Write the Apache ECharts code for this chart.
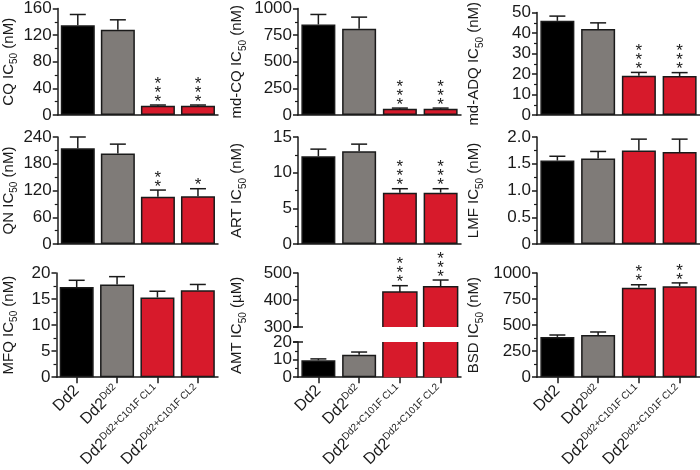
<!DOCTYPE html>
<html>
<head>
<meta charset="utf-8">
<script src="https://cdn.jsdelivr.net/npm/echarts@6/dist/echarts.min.js"></script>
<style>
html, body { margin: 0; padding: 0; background: #fff; }
#chart { width: 700px; height: 470px; }
</style>
</head>
<body>
<div id="chart"></div>
<script>
// strains (x categories), shown as main text + superscript
var categories = ['Dd2', 'Dd2Dd2', 'Dd2Dd2+C101F CL1', 'Dd2Dd2+C101F CL2'];
var catMain = ['Dd2', 'Dd2', 'Dd2', 'Dd2'];
var catSup = ['', 'Dd2', 'Dd2+C101F CL1', 'Dd2+C101F CL2'];
var barColors = ['#000000', '#7f7b78', '#d71a2b', '#d71a2b'];

// IC50 means, error (SEM) and significance stars per drug
var cqMean = [135, 128, 14, 14];
var cqErr = [16, 15, 1, 1];
var cqStars = [0, 0, 3, 3];

var mdcqMean = [850, 810, 58, 58];
var mdcqErr = [94, 109, 7, 7];
var mdcqStars = [0, 0, 3, 3];

var mdadqMean = [46, 42, 19.2, 19];
var mdadqErr = [2.3, 3, 1.6, 1.7];
var mdadqStars = [0, 0, 3, 3];

var qnMean = [215, 203, 106, 107];
var qnErr = [25, 21, 15, 17];
var qnStars = [0, 0, 2, 1];

var artMean = [12.3, 13.0, 7.2, 7.2];
var artErr = [1.0, 1.0, 0.55, 0.55];
var artStars = [0, 0, 3, 3];

var lmfMean = [1.56, 1.60, 1.75, 1.72];
var lmfErr = [0.08, 0.13, 0.21, 0.24];
var lmfStars = [0, 0, 0, 0];

var mfqMean = [17.3, 17.8, 15.3, 16.7];
var mfqErr = [1.3, 1.5, 1.2, 1.1];
var mfqStars = [0, 0, 0, 0];

var amtMean = [9.6, 12.8, 430, 449];
var amtErr = [0.8, 1.5, 23, 25];
var amtStars = [0, 0, 3, 3];

var bsdMean = [387, 405, 858, 874];
var bsdErr = [18, 29, 29, 31];
var bsdStars = [0, 0, 2, 2];

var FONT = '"Liberation Sans", Arial, Helvetica, sans-serif';
var INK = '#1a1a1a';
var colLeft = [55, 298, 537];
var colGap = [37, 50, 52];
var W = 163;
var BAR_W = 34;

var option = { animation: false, grid: [], xAxis: [], yAxis: [], series: [] };

function nameRich() {
    return {
        a: { fontSize: 15, lineHeight: 22, fontFamily: FONT, color: INK },
        s: { fontSize: 10, lineHeight: 12, fontFamily: FONT, color: INK, verticalAlign: 'bottom' }
    };
}

function renderErr(params, api) {
    var i = api.value(0), m = api.value(1), e = api.value(2), n = api.value(3);
    var base = api.coord([i, m]);
    var top = api.coord([i, m + e]);
    var st = { stroke: INK, lineWidth: 1.5 };
    var children = [
        { type: 'line', shape: { x1: base[0], y1: base[1], x2: top[0], y2: top[1] }, style: st },
        { type: 'line', shape: { x1: top[0] - 8, y1: top[1], x2: top[0] + 8, y2: top[1] }, style: st }
    ];
    for (var k = 0; k < n; k++) {
        children.push({
            type: 'text', x: top[0], y: top[1] - 3 - 9 * k,
            style: { text: '*', fontSize: 17, fontFamily: FONT, fill: INK, align: 'center', verticalAlign: 'middle' }
        });
    }
    return { type: 'group', children: children };
}

// bar cut by the axis break: no outline on the cut edges
function renderBroken(params, api) {
    var cs = params.coordSys;
    var i = api.value(0), v = api.value(1);
    var c = api.coord([i, v]);
    var yBot = cs.y + cs.height;
    var inside = c[1] >= cs.y;
    var yTop = inside ? c[1] : cs.y;
    var x0 = c[0] - BAR_W / 2, x1 = c[0] + BAR_W / 2;
    var st = { stroke: INK, lineWidth: 1.5, fill: null };
    var children = [
        { type: 'rect', shape: { x: x0, y: yTop, width: BAR_W, height: yBot - yTop }, style: { fill: barColors[i] } }
    ];
    if (inside) {
        children.push({ type: 'polyline', shape: { points: [[x0, yBot], [x0, yTop], [x1, yTop], [x1, yBot]] }, style: st });
    } else {
        children.push({ type: 'line', shape: { x1: x0, y1: yTop, x2: x0, y2: yBot }, style: st });
        children.push({ type: 'line', shape: { x1: x1, y1: yTop, x2: x1, y2: yBot }, style: st });
    }
    return { type: 'group', children: children };
}

function addPanel(p) {
    var gi = option.grid.length;
    var broken = p.broken || [];
    option.grid.push({ left: p.left, top: p.top, width: W, height: p.height });
    option.xAxis.push({
        type: 'category', gridIndex: gi, data: categories, show: p.showX !== false,
        axisLine: { onZero: false, lineStyle: { color: INK, width: 1.5 } },
        axisTick: { show: !!p.bottom, alignWithLabel: true, length: 6, lineStyle: { color: INK, width: 1.5 } },
        axisLabel: {
            show: !!p.bottom, rotate: 45, margin: 11, interval: 0,
            formatter: function (v, idx) {
                return '{m|' + catMain[idx] + '}' + (catSup[idx] ? '{u|' + catSup[idx] + '}' : '');
            },
            rich: {
                m: { fontSize: 16, lineHeight: 18, fontFamily: FONT, color: INK },
                u: { fontSize: 10, lineHeight: 12, fontFamily: FONT, color: INK, verticalAlign: 'top' }
            }
        }
    });
    option.yAxis.push({
        type: 'value', gridIndex: gi, min: p.min, max: p.max, interval: p.interval,
        name: p.name, nameLocation: 'middle', nameGap: p.nameGap, nameRotate: 90,
        nameTextStyle: { rich: nameRich() },
        axisLine: { show: true, lineStyle: { color: INK, width: 1.5 } },
        axisTick: { show: true, length: 5, lineStyle: { color: INK, width: 1.5 } },
        minorTick: { show: true, splitNumber: 2, length: 3, lineStyle: { color: INK, width: 1.2 } },
        splitLine: { show: false },
        axisLabel: {
            fontSize: 17, lineHeight: 16, color: INK, margin: 6, fontFamily: FONT,
            showMinLabel: true, showMaxLabel: true, hideOverlap: false,
            formatter: p.fmt || function (v) { return String(v); }
        }
    });
    var keep = p.keep || function () { return true; };
    option.series.push({
        type: 'bar', xAxisIndex: gi, yAxisIndex: gi, barWidth: BAR_W,
        data: p.mean.map(function (v, i) {
            if (broken.indexOf(i) >= 0) return '-';
            return { value: v, itemStyle: { color: barColors[i], borderColor: INK, borderWidth: 1.5 } };
        })
    });
    if (broken.length) {
        option.series.push({
            type: 'custom', xAxisIndex: gi, yAxisIndex: gi, renderItem: renderBroken,
            encode: { x: 0, y: 1 }, z: 2,
            data: broken.map(function (i) { return [i, p.mean[i]]; })
        });
    }
    var errData = [];
    p.mean.forEach(function (v, i) {
        if (keep(v)) errData.push([i, v, p.err[i], p.stars[i]]);
    });
    option.series.push({
        type: 'custom', xAxisIndex: gi, yAxisIndex: gi, renderItem: renderErr,
        encode: { x: 0, y: 1 }, data: errData, z: 3
    });
    return gi;
}

function nm(drug, unit) {
    return '{a|' + drug + ' IC}{s|50}{a| (' + unit + ')}';
}

var rowTop = [8, 137, 273];
var rowH = [107, 107, 106];

addPanel({ left: colLeft[0], top: rowTop[0], height: rowH[0], min: 0, max: 160, interval: 40,
    name: nm('CQ', 'nM'), nameGap: colGap[0], mean: cqMean, err: cqErr, stars: cqStars });
addPanel({ left: colLeft[1], top: rowTop[0], height: rowH[0], min: 0, max: 1000, interval: 250,
    name: nm('md-CQ', 'nM'), nameGap: colGap[1], mean: mdcqMean, err: mdcqErr, stars: mdcqStars });
addPanel({ left: colLeft[2], top: rowTop[0], height: rowH[0], min: 0, max: 50, interval: 10,
    name: nm('md-ADQ', 'nM'), nameGap: colGap[2], mean: mdadqMean, err: mdadqErr, stars: mdadqStars });

addPanel({ left: colLeft[0], top: rowTop[1], height: rowH[1], min: 0, max: 240, interval: 60,
    name: nm('QN', 'nM'), nameGap: colGap[0], mean: qnMean, err: qnErr, stars: qnStars });
addPanel({ left: colLeft[1], top: rowTop[1], height: rowH[1], min: 0, max: 15, interval: 5,
    name: nm('ART', 'nM'), nameGap: colGap[1], mean: artMean, err: artErr, stars: artStars });
addPanel({ left: colLeft[2], top: rowTop[1], height: rowH[1], min: 0, max: 2, interval: 0.5,
    name: nm('LMF', 'nM'), nameGap: colGap[2], mean: lmfMean, err: lmfErr, stars: lmfStars,
    fmt: function (v) { return v === 0 ? '0' : v.toFixed(1); } });

addPanel({ left: colLeft[0], top: rowTop[2], height: rowH[2], min: 0, max: 20, interval: 5, bottom: true,
    name: nm('MFQ', 'nM'), nameGap: colGap[0], mean: mfqMean, err: mfqErr, stars: mfqStars });
// AMT: broken axis, upper part 300-500, lower part 0-20
var amtUp = addPanel({ left: colLeft[1], top: 273, height: 54, min: 300, max: 500, interval: 100, showX: false,
    name: '', nameGap: 0, mean: amtMean, err: amtErr, stars: amtStars, broken: [2, 3],
    keep: function (v) { return v >= 300; } });
var amtLow = addPanel({ left: colLeft[1], top: 342, height: 36, min: 0, max: 20, interval: 10, bottom: true,
    name: '', nameGap: 0, mean: amtMean, err: amtErr, stars: amtStars, broken: [2, 3],
    keep: function (v) { return v < 20; } });
addPanel({ left: colLeft[2], top: rowTop[2], height: rowH[2], min: 0, max: 1000, interval: 250, bottom: true,
    name: nm('BSD', 'nM'), nameGap: colGap[2], mean: bsdMean, err: bsdErr, stars: bsdStars });

// shared axis title for the two AMT parts
var gi = option.grid.length;
option.grid.push({ left: colLeft[1], top: 273, width: W, height: 105 });
option.xAxis.push({ type: 'category', gridIndex: gi, data: categories, show: false });
option.yAxis.push({
    type: 'value', gridIndex: gi, min: 0, max: 1,
    name: nm('AMT', 'µM'), nameLocation: 'middle', nameGap: colGap[1], nameRotate: 90,
    nameTextStyle: { rich: nameRich() },
    axisLine: { show: false }, axisTick: { show: false }, axisLabel: { show: false }, splitLine: { show: false }
});

var myChart = echarts.init(document.getElementById('chart'));
myChart.setOption(option);

// break marks on the AMT axis
var yA = myChart.convertToPixel({ yAxisIndex: amtUp }, 300);
var yB = myChart.convertToPixel({ yAxisIndex: amtLow }, 20);
var ax = colLeft[1];
myChart.setOption({
    graphic: [yA, yB].map(function (y) {
        return { type: 'line', shape: { x1: ax - 5, y1: y, x2: ax + 5, y2: y }, style: { stroke: INK, lineWidth: 1.5 } };
    })
});
</script>
</body>
</html>
